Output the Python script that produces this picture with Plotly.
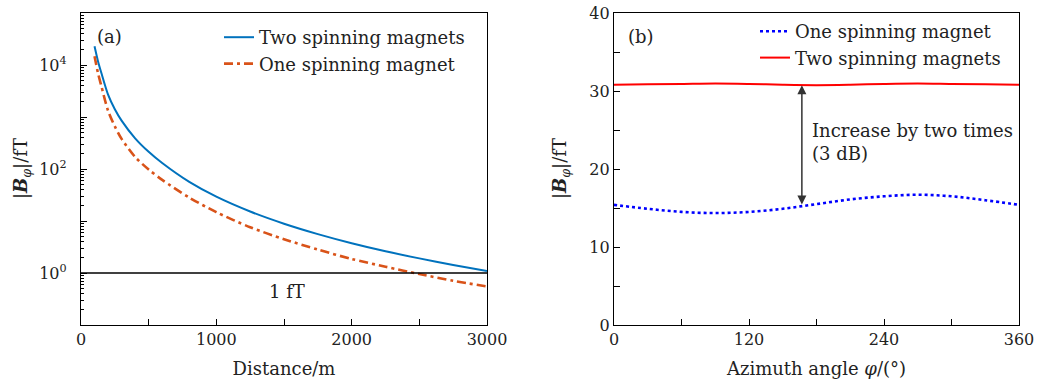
import plotly.graph_objects as go

# ---- Panel (a) data: field magnitude vs distance ----
distance_m = [100, 125, 150, 200, 250, 300, 400, 500, 600, 800, 1000,
              1250, 1500, 1750, 2000, 2250, 2500, 2750, 3000]
two_magnets_fT = [22900, 12000, 7100, 2690, 1410, 851, 389, 214, 130, 56.4, 29.3,
                  15.2, 8.87, 5.60, 3.74, 2.62, 1.91, 1.43, 1.09]
one_magnet_fT = [14800, 7080, 3980, 1320, 661, 380, 170, 97.7, 61.7, 28.2, 14.8,
                 7.59, 4.47, 2.82, 1.86, 1.32, 0.955, 0.708, 0.55]
threshold_fT = 1.0

# ---- Panel (b) data: field magnitude vs azimuth ----
azimuth_deg = [0, 30, 60, 90, 120, 150, 180, 210, 240, 270, 300, 330, 360]
one_magnet_az = [15.4, 14.9, 14.5, 14.35, 14.5, 14.9, 15.5, 16.1, 16.5, 16.7, 16.5, 16.0, 15.4]
two_magnets_az = [30.8, 30.85, 30.9, 30.95, 30.9, 30.8, 30.75, 30.8, 30.9, 30.95, 30.9, 30.85, 30.8]
arrow_phi = 167

FONT = "DejaVu Serif"
FS = 18      # text size
TFS = 16     # tick label size
W, H = 1039, 381
TXT = "#222"

fig = go.Figure()

fig.add_trace(go.Scatter(x=distance_m, y=two_magnets_fT, mode="lines",
                         line=dict(color="#0072BD", width=2, shape="spline", smoothing=0.8),
                         name="Two spinning magnets", legend="legend",
                         xaxis="x", yaxis="y"))
fig.add_trace(go.Scatter(x=distance_m, y=one_magnet_fT, mode="lines",
                         line=dict(color="#D95319", width=2.6, dash="9px,4px,3px,4px",
                                   shape="spline", smoothing=0.8),
                         name="One spinning magnet", legend="legend",
                         xaxis="x", yaxis="y"))
fig.add_trace(go.Scatter(x=[0, 3000], y=[threshold_fT, threshold_fT], mode="lines",
                         line=dict(color="black", width=1.3), showlegend=False,
                         xaxis="x", yaxis="y"))

fig.add_trace(go.Scatter(x=azimuth_deg, y=one_magnet_az, mode="lines",
                         line=dict(color="#0000FF", width=2.6, dash="dot", shape="spline"),
                         name="One spinning magnet", legend="legend2",
                         xaxis="x2", yaxis="y2"))
fig.add_trace(go.Scatter(x=azimuth_deg, y=two_magnets_az, mode="lines",
                         line=dict(color="#FF0000", width=2, shape="spline"),
                         name="Two spinning magnets", legend="legend2",
                         xaxis="x2", yaxis="y2"))

y_dom = [56 / H, 368 / H]
axis_common = dict(showline=True, linecolor="black", linewidth=1.3, mirror=True,
                   ticks="inside", ticklen=6, tickwidth=1.2, tickcolor="black",
                   showgrid=False, zeroline=False,
                   tickfont=dict(family=FONT, size=TFS, color=TXT))

minor_log = []
for e in range(-1, 5):
    for m in range(2, 10):
        minor_log.append(m * 10 ** e)

ytitle = "|<b><i>B</i></b><sub><i>φ</i></sub>|/fT"
y_mid = 1 - 169 / H

fig.update_layout(
    width=W, height=H,
    margin=dict(l=0, r=0, t=0, b=0),
    paper_bgcolor="white", plot_bgcolor="white",
    font=dict(family=FONT, size=FS, color=TXT),
    xaxis=dict(domain=[81 / W, 487 / W], range=[0, 3000], anchor="y",
               tickvals=[0, 500, 1000, 1500, 2000, 2500, 3000],
               ticktext=["0", "", "1000", "", "2000", "", "3000"],
               title=dict(text="Distance/m", standoff=14, font=dict(family=FONT, size=FS)),
               automargin=False, **axis_common),
    yaxis=dict(domain=y_dom, type="log", range=[-1, 5], anchor="x",
               tickvals=[0.1, 1, 10, 100, 1000, 10000, 100000],
               ticktext=["", "10<sup>0</sup>", "", "10<sup>2</sup>", "", "10<sup>4</sup>", ""],
               minor=dict(tickmode="array", tickvals=minor_log, ticks="inside",
                          ticklen=3, tickwidth=1, tickcolor="black"),
               ticklabelstandoff=10,
               automargin=False, **axis_common),
    xaxis2=dict(domain=[614 / W, 1019 / W], range=[0, 360], anchor="y2",
                tickvals=[0, 60, 120, 180, 240, 300, 360],
                ticktext=["0", "", "120", "", "240", "", "360"],
                title=dict(text="Azimuth angle <i>φ</i>/(°)", standoff=14,
                           font=dict(family=FONT, size=FS)),
                automargin=False, **axis_common),
    yaxis2=dict(domain=y_dom, range=[0, 40], anchor="x2",
                tickvals=[0, 5, 10, 15, 20, 25, 30, 35, 40],
                ticktext=["0", "", "10", "", "20", "", "30", "", "40"],
                automargin=False, **axis_common),
    legend=dict(x=219 / W, y=1 - 19 / H, xanchor="left", yanchor="top",
                bgcolor="rgba(0,0,0,0)", font=dict(family=FONT, size=FS),
                tracegroupgap=0),
    legend2=dict(x=755 / W, y=1 - 13 / H, xanchor="left", yanchor="top",
                 bgcolor="rgba(0,0,0,0)", font=dict(family=FONT, size=FS),
                 tracegroupgap=0),
    annotations=[
        dict(text=ytitle, x=22 / W, y=y_mid, xref="paper", yref="paper",
             textangle=-90, showarrow=False, xanchor="center", yanchor="middle",
             font=dict(family=FONT, size=FS)),
        dict(text=ytitle, x=561 / W, y=y_mid, xref="paper", yref="paper",
             textangle=-90, showarrow=False, xanchor="center", yanchor="middle",
             font=dict(family=FONT, size=FS)),
        dict(text="(a)", x=0.035, y=0.926, xref="x domain", yref="y domain",
             xanchor="left", yanchor="middle", showarrow=False,
             font=dict(family=FONT, size=FS)),
        dict(text="(b)", x=0.03, y=0.926, xref="x2 domain", yref="y2 domain",
             xanchor="left", yanchor="middle", showarrow=False,
             font=dict(family=FONT, size=FS)),
        dict(text="1 fT", x=1520, y=-0.35, xref="x", yref="y",
             showarrow=False, font=dict(family=FONT, size=FS)),
        dict(text="", x=arrow_phi, y=30.75, ax=arrow_phi, ay=15.25,
             xref="x2", yref="y2", axref="x2", ayref="y2",
             showarrow=True, arrowhead=2, arrowside="end+start",
             arrowsize=1.2, arrowwidth=1.5, arrowcolor="#333"),
        dict(text="Increase by two times<br>(3 dB)", x=174, y=23.4,
             xref="x2", yref="y2", xanchor="left", yanchor="middle", align="left",
             showarrow=False, font=dict(family=FONT, size=FS)),
    ],
)

fig.write_html("out.html", config={"displayModeBar": False},
               post_script="document.body.style.margin='0px';")
